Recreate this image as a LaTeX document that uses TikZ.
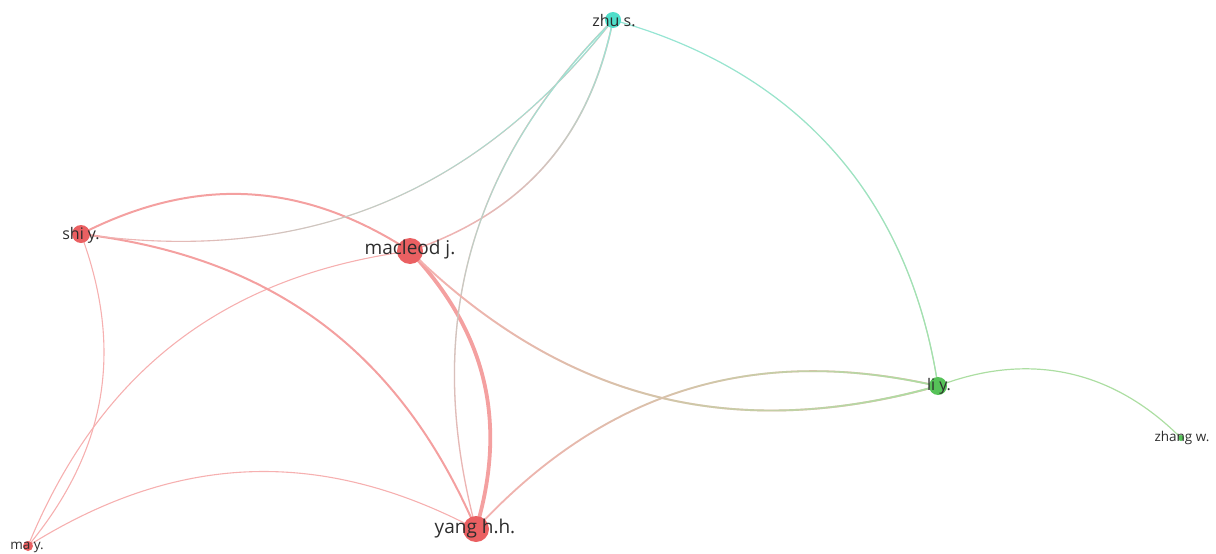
\documentclass[tikz,border=0pt]{standalone}
\usepackage{fontspec}
\setmainfont{Open Sans}
\usetikzlibrary{fadings}
\tikzfading[name=fadeR, left color=transparent!100, right color=transparent!0]
\tikzfading[name=fadeU, bottom color=transparent!100, top color=transparent!0]
\tikzfading[name=fadeD, bottom color=transparent!0, top color=transparent!100]
\definecolor{nred}{RGB}{234,96,98}
\definecolor{ncyan}{RGB}{80,222,202}
\definecolor{ngreen}{RGB}{86,194,88}
\definecolor{ered}{RGB}{246,176,176}
\definecolor{ered2}{RGB}{244,160,160}
\definecolor{ecyan}{RGB}{150,230,214}
\definecolor{egreen}{RGB}{172,222,162}
\definecolor{lbl}{RGB}{45,45,45}
\tikzset{
  vnode/.style={circle, inner sep=0pt, minimum size=#1},
  vlabel/.style={text=lbl, inner sep=0pt, anchor=center},
  big/.style={vlabel, font=\fontsize{19}{19}\selectfont},
  mid/.style={vlabel, font=\fontsize{16}{16}\selectfont},
  small/.style={vlabel, font=\fontsize{13.5}{13.5}\selectfont},
  cur/.style={bend left=30},
}
\begin{document}
\begin{tikzpicture}[x=1pt,y=1pt]
\useasboundingbox (0,0) rectangle (1216,-554);
\coordinate (zhu) at (613,-20);
\coordinate (shi) at (81,-234);
\coordinate (mac) at (410,-251);
\coordinate (li) at (938,-386);
\coordinate (zhang) at (1181,-438);
\coordinate (ma) at (28,-546);
\coordinate (yang) at (476,-529);
% red cluster edges
\draw[ered, line width=1.1] (shi) to[cur] (ma);
\draw[ered, line width=1.1] (ma) to[cur] (mac);
\draw[ered, line width=1.1] (ma) to[cur] (yang);
\draw[ered2, line width=2] (shi) to[cur] (mac);
\draw[ered2, line width=2] (shi) to[cur] (yang);
\draw[ered2, line width=3.8] (mac) to[cur] (yang);
% red-cyan edges
\draw[ered, line width=1.1] (zhu) to[cur] (shi);
\draw[ecyan, line width=1.1, path fading=fadeR] (zhu) to[cur] (shi);
\draw[ered, line width=1.5] (zhu) to[cur] (mac);
\draw[ecyan, line width=1.5, path fading=fadeU] (zhu) to[cur] (mac);
\draw[ered, line width=1.3] (yang) to[cur] (zhu);
\draw[ecyan, line width=1.3, path fading=fadeU] (yang) to[cur] (zhu);
% red-green edges
\draw[ered, line width=1.9] (li) to[cur] (mac);
\draw[egreen, line width=1.9, path fading=fadeR] (li) to[cur] (mac);
\draw[ered, line width=1.8] (yang) to[cur] (li);
\draw[egreen, line width=1.8, path fading=fadeR] (yang) to[cur] (li);
% cyan-green
\draw[ecyan, line width=1.2] (zhu) to[bend left=33] (li);
\draw[egreen, line width=1.2, path fading=fadeD] (zhu) to[bend left=33] (li);
\draw[egreen, line width=1.2] (li) to[bend left=33] (zhang);
% nodes
\node[vnode=16pt, fill=ncyan] (zhuN) at (zhu) {};
\node[vnode=18pt, fill=nred] (shiN) at (shi) {};
\node[vnode=26pt, fill=nred] (macN) at (mac) {};
\node[vnode=18pt, fill=ngreen] (liN) at (li) {};
\node[vnode=6pt, fill=ngreen] (zhangN) at (zhang) {};
\node[vnode=10pt, fill=nred] (maN) at (ma) {};
\node[vnode=26pt, fill=nred] (yangN) at (yang) {};
% labels
\node[mid] (zhuL) at (614,-21) {zhu s.};
\node[mid] (shiL) at (81,-235) {shi y.};
\node[big] (macL) at (410,-250) {macleod j.};
\node[mid] (liL) at (939,-386) {li y.};
\node[small] (zhangL) at (1182,-438) {zhang w.};
\node[small] (maL) at (27,-547) {ma y.};
\node[big] (yangL) at (475,-529) {yang h.h.};
\end{tikzpicture}
\end{document}
